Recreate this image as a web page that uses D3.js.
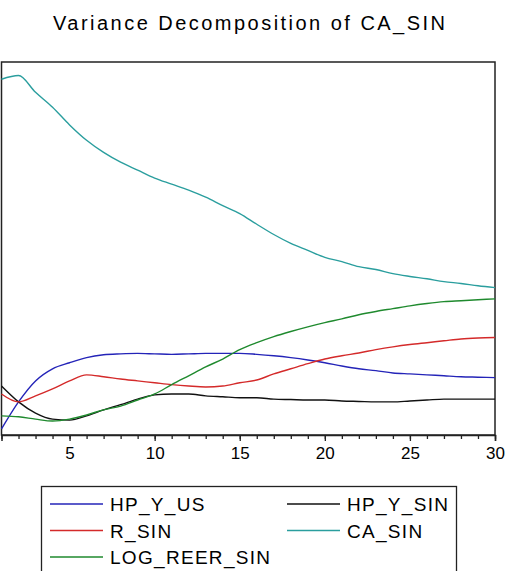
<!DOCTYPE html>
<html>
<head>
<meta charset="utf-8">
<script src="https://cdn.jsdelivr.net/npm/d3@7"></script>
<style>
  html, body { margin: 0; padding: 0; background: #fff; }
  svg { display: block; }
  text { font-family: "Liberation Sans", Arial, sans-serif; fill: #000; }
</style>
</head>
<body>
<svg id="chart" width="508" height="571"></svg>
<script>
const periods = d3.range(1, 31);
const seriesNames = ["HP_Y_US", "HP_Y_SIN", "R_SIN", "CA_SIN", "LOG_REER_SIN"];
const seriesColors = ["#2424b8", "#111111", "#d42a2a", "#2a9e9e", "#1f8a2e"];

const hpYUs = [1.3, 7.1, 11.6, 14.2, 15.5, 16.6, 17.2, 17.4, 17.5, 17.4,
  17.3, 17.4, 17.5, 17.5, 17.5, 17.3, 17.0, 16.6, 16.1, 15.5,
  14.8, 14.2, 13.8, 13.3, 13.1, 12.9, 12.7, 12.5, 12.4, 12.3];
const hpYSin = [10.5, 7.1, 4.7, 3.4, 3.2, 4.1, 5.4, 6.5, 7.7, 8.6,
  8.8, 8.8, 8.4, 8.2, 8.0, 8.0, 7.7, 7.6, 7.5, 7.5,
  7.3, 7.2, 7.1, 7.1, 7.3, 7.5, 7.7, 7.7, 7.7, 7.7];
const rSin = [8.8, 7.1, 8.4, 9.9, 11.6, 12.9, 12.5, 12.0, 11.6, 11.2,
  10.8, 10.5, 10.3, 10.5, 11.2, 11.8, 13.1, 14.2, 15.3, 16.3,
  17.0, 17.6, 18.3, 18.9, 19.4, 19.8, 20.2, 20.6, 20.8, 20.9];
const caSin = [76.3, 77.1, 73.5, 70.3, 66.5, 63.2, 60.6, 58.5, 56.8, 55.1,
  53.8, 52.5, 51.0, 49.2, 47.5, 45.2, 43.0, 41.1, 39.6, 38.1,
  37.2, 36.1, 35.5, 34.6, 34.0, 33.5, 32.9, 32.5, 32.0, 31.6];
const logReerSin = [4.1, 3.9, 3.4, 3.0, 3.4, 4.3, 5.4, 6.2, 7.5, 8.8,
  10.8, 12.7, 14.6, 16.3, 18.3, 19.8, 21.1, 22.2, 23.2, 24.1,
  24.9, 25.8, 26.5, 27.1, 27.7, 28.2, 28.6, 28.8, 29.0, 29.2];
const seriesValues = [hpYUs, hpYSin, rSin, caSin, logReerSin];
const xTickLabels = [5, 10, 15, 20, 25, 30];
const titleText = "Variance Decomposition of CA_SIN";

const svg = d3.select("#chart");
const mLeft = 1.5, mRight = 495, mTop = 62, mBottom = 435;

const x = d3.scaleLinear().domain([1, 30]).range([mLeft, mRight]);
const y = d3.scaleLinear().domain([0, 80]).range([mBottom, mTop]);

// title
svg.append("text")
  .attr("x", 53).attr("y", 30)
  .attr("font-size", 20)
  .attr("textLength", 392)
  .attr("lengthAdjust", "spacing")
  .text(titleText);

// frame
svg.append("rect")
  .attr("x", mLeft).attr("y", mTop)
  .attr("width", mRight - mLeft).attr("height", mBottom - mTop)
  .attr("fill", "none").attr("stroke", "#222").attr("stroke-width", 1.5);

// minor ticks
svg.append("g")
  .attr("transform", `translate(0,${mBottom})`)
  .call(d3.axisBottom(x).tickValues(periods).tickSize(4).tickFormat(""))
  .call(g => g.select(".domain").remove())
  .call(g => g.selectAll("line").attr("stroke", "#222").attr("stroke-width", 1.3));

// major ticks + labels
svg.append("g")
  .attr("transform", `translate(0,${mBottom})`)
  .call(d3.axisBottom(x).tickValues(xTickLabels).tickSize(6).tickPadding(6))
  .call(g => g.select(".domain").attr("stroke", "#222").attr("stroke-width", 1.5))
  .call(g => g.selectAll("line").attr("stroke", "#222").attr("stroke-width", 1.3))
  .call(g => g.selectAll("text").attr("font-size", 17)
    .attr("font-family", "'Liberation Sans', Arial, sans-serif").attr("fill", "#000"));

// lines
const lineGen = d3.line()
  .x((d, i) => x(periods[i]))
  .y(d => y(d))
  .curve(d3.curveMonotoneX);
const plot = svg.append("g");
seriesValues.forEach((vals, k) => {
  plot.append("path")
    .datum(vals)
    .attr("fill", "none")
    .attr("stroke", seriesColors[k])
    .attr("stroke-width", 1.4)
    .attr("d", lineGen);
});

// legend
const legend = svg.append("g");
legend.append("rect")
  .attr("x", 41.5).attr("y", 486.5)
  .attr("width", 415).attr("height", 100)
  .attr("fill", "#fff").attr("stroke", "#222").attr("stroke-width", 1.3);

const legendItems = [
  { col: 0, row: 0, k: 0 },
  { col: 1, row: 0, k: 1 },
  { col: 0, row: 1, k: 2 },
  { col: 1, row: 1, k: 3 },
  { col: 0, row: 2, k: 4 }
];
const colX = [50, 287];
const rowY = [504, 530.5, 557];
legendItems.forEach(it => {
  const lx = colX[it.col], ly = rowY[it.row];
  legend.append("line")
    .attr("x1", lx).attr("x2", lx + 53)
    .attr("y1", ly).attr("y2", ly)
    .attr("stroke", seriesColors[it.k]).attr("stroke-width", 1.4);
  legend.append("text")
    .attr("x", lx + 60).attr("y", ly + 7)
    .attr("font-size", 19)
    .attr("letter-spacing", 1.3)
    .text(seriesNames[it.k]);
});
</script>
</body>
</html>
